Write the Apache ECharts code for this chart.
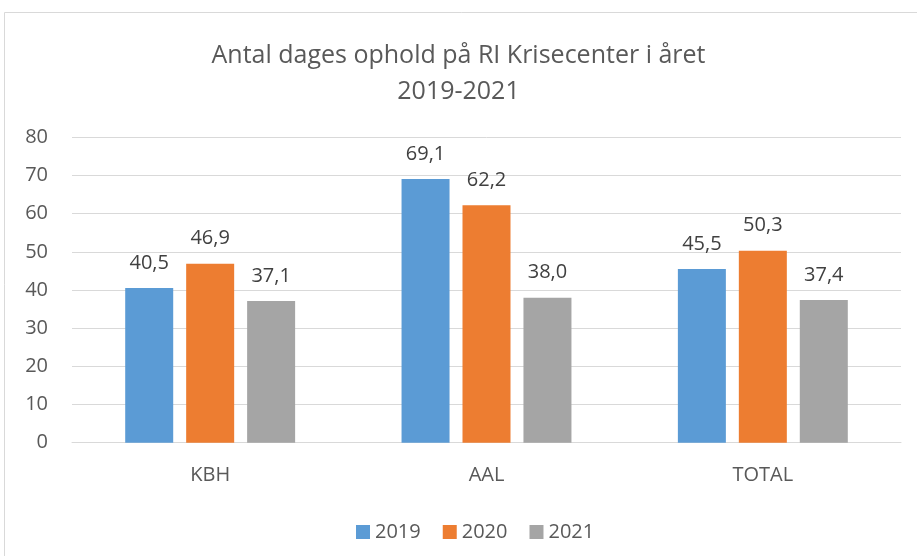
<!DOCTYPE html>
<html>
<head>
<meta charset="utf-8">
<script src="https://cdn.jsdelivr.net/npm/echarts@6/dist/echarts.min.js"></script>
<style>
html,body{margin:0;padding:0;background:#fff;}
#chart{width:917px;height:556px;}
</style>
</head>
<body>
<div id="chart"></div>
<script>
const titleLines = ['Antal dages ophold på RI Krisecenter i året', '2019-2021'];
const categories = ['KBH', 'AAL', 'TOTAL'];
const seriesNames = ['2019', '2020', '2021'];
const values2019 = [40.5, 69.1, 45.5];
const values2020 = [46.9, 62.2, 50.3];
const values2021 = [37.1, 38.0, 37.4];
const colors = ['#5B9BD5', '#ED7D31', '#A5A5A5'];
const yTicks = [0, 10, 20, 30, 40, 50, 60, 70, 80];

const font = 'Open Sans';
const fmt = v => v.toFixed(1).replace('.', ',');

function bar(name, data, color) {
  return {
    name: name,
    type: 'bar',
    data: data,
    barWidth: 48,
    barGap: '27%',
    itemStyle: { color: color },
    label: {
      show: true,
      position: 'top',
      distance: 15,
      color: '#404040',
      fontFamily: font,
      fontSize: 20,
      formatter: p => fmt(p.value)
    }
  };
}

const chart = echarts.init(document.getElementById('chart'), null, { renderer: 'canvas' });
chart.setOption({
  animation: false,
  backgroundColor: '#ffffff',
  graphic: [{
    type: 'rect',
    shape: { x: 4.5, y: 12.5, width: 940, height: 580 },
    style: { fill: 'none', stroke: '#d9d9d9', lineWidth: 1 },
    silent: true
  }],
  title: {
    text: titleLines.join('\n'),
    left: 'center',
    top: 33,
    textStyle: {
      fontFamily: font,
      fontSize: 25,
      fontWeight: 'normal',
      color: '#595959',
      lineHeight: 36
    }
  },
  legend: {
    data: seriesNames,
    left: 351,
    top: 517,
    itemWidth: 14,
    itemHeight: 14,
    itemGap: 22,
    icon: 'rect',
    textStyle: { fontFamily: font, fontSize: 20, color: '#595959' }
  },
  grid: { left: 72, right: 16, top: 137.3, bottom: 113.3, containLabel: false },
  xAxis: {
    type: 'category',
    data: categories,
    axisLine: { show: true, lineStyle: { color: '#d9d9d9', width: 1 } },
    axisTick: { show: false },
    axisLabel: { fontFamily: font, fontSize: 20, color: '#595959', margin: 23 }
  },
  yAxis: {
    type: 'value',
    min: yTicks[0],
    max: yTicks[yTicks.length - 1],
    interval: yTicks[1] - yTicks[0],
    axisLine: { show: false },
    axisTick: { show: false },
    splitLine: { lineStyle: { color: '#d9d9d9', width: 1 } },
    axisLabel: { fontFamily: font, fontSize: 20, color: '#595959', margin: 24 }
  },
  series: [
    bar(seriesNames[0], values2019, colors[0]),
    bar(seriesNames[1], values2020, colors[1]),
    bar(seriesNames[2], values2021, colors[2])
  ]
});
</script>
</body>
</html>
